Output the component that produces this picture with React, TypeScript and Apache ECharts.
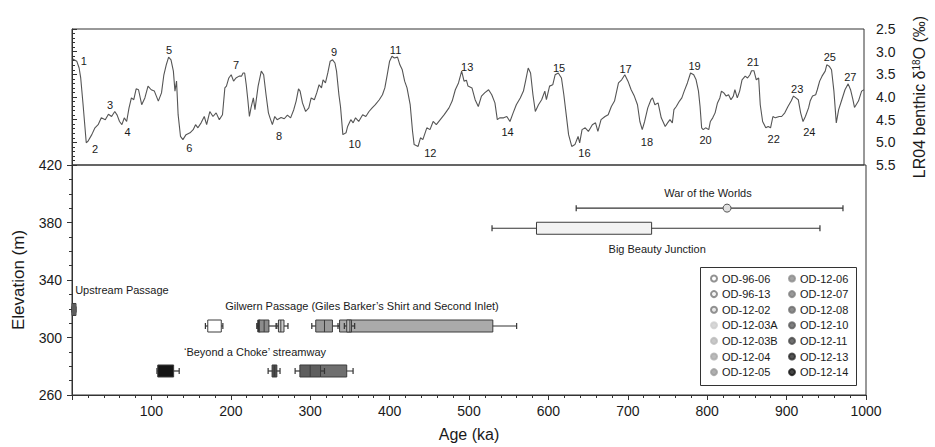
import React, { useEffect, useRef } from 'react';
import * as echarts from 'echarts';

// LR04 benthic stack: [age (ka), δ18O (‰)]
const lr04Stack: [number, number][] = [
  [1, 3.16], [6, 3.21], [9, 3.36], [11, 3.58], [14, 4.17], [18, 5.01], [20, 4.98], [25, 4.83], [29, 4.68], [33, 4.61],
  [37, 4.46], [42, 4.5], [46, 4.38], [50, 4.43], [54, 4.32], [57, 4.4], [60, 4.54], [63, 4.61], [66, 4.46], [69, 4.54],
  [72, 4.24], [75, 4.02], [78, 4.06], [81, 3.82], [84, 3.84], [88, 4.17], [92, 4.02], [96, 3.76], [100, 3.84], [104, 3.87],
  [109, 4.09], [113, 3.91], [116, 3.51], [119, 3.29], [122, 3.12], [125, 3.18], [128, 3.43], [130, 3.87], [132, 3.65], [134, 4.39],
  [137, 4.87], [140, 4.94], [144, 4.83], [149, 4.79], [153, 4.72], [156, 4.61], [159, 4.68], [163, 4.57], [167, 4.43], [170, 4.61],
  [174, 4.32], [178, 4.43], [182, 4.35], [186, 4.5], [190, 4.39], [193, 3.8], [195, 3.76], [198, 3.58], [201, 3.51], [204, 3.65],
  [207, 3.58], [211, 3.54], [214, 3.54], [216, 3.47], [218, 3.47], [220, 3.73], [222, 4.06], [224, 4.43], [226, 4.24], [229, 4.02],
  [231, 4.28], [235, 3.76], [239, 3.43], [242, 3.51], [245, 3.95], [248, 4.35], [250, 4.46], [253, 4.61], [256, 4.43], [259, 4.5],
  [264, 4.45], [268, 4.48], [272, 4.4], [276, 4.46], [280, 4.28], [283, 4.09], [286, 3.82], [288, 3.87], [291, 4.13], [295, 4.32],
  [299, 4.24], [302, 4.02], [306, 4.06], [309, 3.91], [312, 3.73], [315, 3.8], [317, 3.62], [320, 3.69], [323, 3.47], [326, 3.21],
  [329, 3.18], [332, 3.25], [334, 3.43], [337, 3.95], [339, 4.21], [342, 4.83], [346, 4.79], [348, 4.65], [352, 4.5], [355, 4.57],
  [358, 4.46], [362, 4.54], [367, 4.39], [371, 4.43], [375, 4.32], [379, 4.24], [383, 4.17], [388, 4.06], [392, 3.95], [395, 3.8],
  [398, 3.51], [401, 3.21], [404, 3.1], [407, 3.14], [411, 3.12], [414, 3.29], [417, 3.4], [420, 3.65], [423, 3.8], [427, 4.17],
  [430, 4.76], [432, 5.05], [437, 5.09], [440, 4.9], [443, 4.94], [448, 4.68], [452, 4.72], [456, 4.54], [460, 4.61], [465, 4.5],
  [470, 4.39], [476, 4.24], [480, 4.09], [484, 3.84], [488, 3.69], [492, 3.43], [495, 3.65], [498, 3.63], [500, 3.76], [505, 3.8],
  [509, 4.06], [513, 4.21], [517, 3.98], [521, 3.91], [526, 3.84], [530, 3.95], [534, 4.13], [537, 4.5], [540, 4.46], [545, 4.46],
  [549, 4.43], [553, 4.54], [557, 4.35], [561, 4.17], [566, 4.02], [570, 3.87], [573, 3.62], [576, 3.36], [579, 3.47], [582, 3.95],
  [585, 4.32], [589, 4.17], [593, 4.06], [597, 3.87], [599, 4.06], [603, 3.76], [607, 3.73], [610, 3.51], [614, 3.47], [618, 3.58],
  [621, 3.95], [624, 4.39], [627, 4.83], [631, 5.09], [635, 5.05], [639, 4.87], [641, 5.01], [644, 4.72], [648, 4.68], [652, 4.76],
  [657, 4.61], [661, 4.57], [664, 4.76], [668, 4.5], [673, 4.43], [677, 4.39], [681, 4.21], [685, 4.09], [690, 3.69], [694, 3.62],
  [698, 3.51], [702, 3.65], [706, 3.84], [710, 3.98], [714, 4.17], [717, 4.54], [720, 4.72], [723, 4.54], [727, 4.24], [731, 4.06],
  [733, 4.02], [736, 4.17], [740, 4.13], [744, 4.46], [749, 4.65], [752, 4.57], [755, 4.5], [758, 4.57], [760, 4.28], [763, 4.21],
  [767, 4.09], [770, 4.02], [773, 3.87], [777, 3.69], [781, 3.47], [785, 3.51], [788, 3.62], [791, 3.87], [793, 4.21], [795, 4.68],
  [797, 4.72], [800, 4.68], [804, 4.72], [806, 4.54], [809, 4.46], [812, 4.35], [815, 4.13], [818, 4.02], [820, 3.87], [823, 3.91],
  [826, 3.98], [829, 3.95], [832, 4.06], [835, 3.98], [837, 3.84], [840, 4.02], [843, 3.87], [846, 3.62], [850, 3.54], [853, 3.58],
  [856, 3.51], [858, 3.42], [861, 3.42], [864, 3.62], [867, 3.58], [869, 4.17], [872, 4.54], [876, 4.68], [879, 4.65], [882, 4.68],
  [885, 4.43], [888, 4.46], [893, 4.43], [896, 4.43], [900, 4.35], [904, 4.21], [908, 4.09], [911, 3.98], [914, 4.02], [917, 4.06],
  [920, 4.35], [923, 4.54], [926, 4.43], [930, 4.24], [932, 4.09], [935, 3.98], [939, 3.95], [941, 3.84], [944, 3.65], [947, 3.54],
  [951, 3.43], [953, 3.29], [956, 3.32], [959, 3.4], [962, 3.87], [965, 4.57], [968, 4.28], [972, 4.06], [976, 3.84], [980, 3.71],
  [983, 3.84], [986, 4.06], [988, 4.23], [993, 4.09], [997, 3.87], [1000, 3.84],
];

// Marine isotope stage labels: [stage, age (ka), δ18O]
const misLabels: [string, number, number][] = [
  ['1', 15, 3.21], ['2', 29, 5.14], ['3', 48, 4.17], ['4', 70, 4.77], ['5', 122.5, 2.96], ['6', 148, 5.13],
  ['7', 207, 3.3], ['8', 261.6, 4.85], ['9', 331, 3.01], ['10', 357, 5.04], ['11', 408.5, 2.96], ['12', 452.5, 5.24],
  ['13', 499, 3.33], ['14', 550, 4.77], ['15', 615, 3.35], ['16', 647, 5.24], ['17', 699, 3.38], ['18', 726, 4.99],
  ['19', 786, 3.32], ['20', 800, 4.94], ['21', 860, 3.23], ['22', 886, 4.92], ['23', 915.6, 3.82], ['24', 931, 4.77],
  ['25', 956.8, 3.12], ['27', 982.7, 3.56],
];

const sampleNames = [
  'OD-96-06', 'OD-96-13', 'OD-12-02', 'OD-12-03A', 'OD-12-03B', 'OD-12-04', 'OD-12-05',
  'OD-12-06', 'OD-12-07', 'OD-12-08', 'OD-12-10', 'OD-12-11', 'OD-12-13', 'OD-12-14',
];
const sampleColors = [
  '#ffffff', '#f2f2f2', '#e0e0e0', '#cdcdcd', '#bababa', '#aaaaaa', '#9b9b9b',
  '#8c8c8c', '#7f7f7f', '#6f6f6f', '#5e5e5e', '#4b4b4b', '#2b2b2b', '#151515',
];

// Age ranges: [sample index, min, q1, median, q3, max, elevation (m)]
const ageBoxes: number[][] = [
  [8, 0, 0, 2.5, 5, 5, 319.5],
  [0, 168, 171, 171, 188, 190, 308],
  [12, 233, 234, 235.5, 237, 238, 308],
  [7, 233, 236, 242, 248, 257, 308],
  [3, 258, 260, 263, 267, 272, 308],
  [6, 302, 307, 318, 328, 337, 308],
  [5, 335, 337, 349, 530, 560, 308],
  [4, 343, 346, 350, 352, 356, 308],
  [13, 107, 108, 108, 128, 135, 276.7],
  [11, 247, 252, 255, 258, 262, 276.7],
  [9, 310, 313, 313, 346, 354, 276.7],
  [10, 281, 287, 300, 313, 318, 276.7],
  [1, 529, 585, 585, 730, 942, 376],
  [2, 635, 825, 825, 825, 971, 390],
];

const siteNames = [
  'Upstream Passage',
  'Gilwern Passage (Giles Barker\u2019s Shirt and Second Inlet)',
  '\u2018Beyond a Choke\u2019 streamway',
  'War of the Worlds',
  'Big Beauty Junction',
];
const siteAge = [4, 193, 141, 801, 737];
const siteElev = [333, 321.6, 289.7, 400.7, 361.4];
const siteAlign = ['left', 'left', 'left', 'center', 'center'];

const xTicks = { min: 0, max: 1000, interval: 100 };
const elevTicks = { min: 260, max: 420, interval: 40 };
const d18OTicks = { min: 2.5, max: 5.5, interval: 0.5 };

const FONT = 'Liberation Sans, Arial, Helvetica, sans-serif';
const AXIS_COLOR = '#333';
const TEXT_COLOR = '#1a1a1a';

function textSeries(xAxisIndex: number, yAxisIndex: number, rows: number[][], texts: string[], aligns: string[], size: number) {
  return {
    type: 'custom',
    xAxisIndex,
    yAxisIndex,
    silent: true,
    clip: false,
    encode: { x: 0, y: 1 },
    data: rows,
    renderItem: (params: any, api: any) => {
      const i = params.dataIndex;
      const p = api.coord([api.value(0), api.value(1)]);
      return {
        type: 'text',
        x: p[0],
        y: p[1],
        style: {
          text: texts[i],
          fill: TEXT_COLOR,
          fontSize: size,
          fontFamily: FONT,
          align: aligns[i],
          verticalAlign: 'middle',
        },
      };
    },
  };
}

function buildOption(): any {
  const boxSeries = {
    type: 'custom',
    xAxisIndex: 1,
    yAxisIndex: 1,
    silent: true,
    clip: false,
    encode: { x: [1, 2, 3, 4, 5], y: 6 },
    data: ageBoxes,
    renderItem: (_params: any, api: any) => {
      const si = api.value(0);
      const mn = api.value(1), q1 = api.value(2), md = api.value(3), q3 = api.value(4), mx = api.value(5), el = api.value(6);
      const pMin = api.coord([mn, el]);
      const pMax = api.coord([mx, el]);
      const pQ1 = api.coord([q1, el]);
      const pQ3 = api.coord([q3, el]);
      const pMd = api.coord([md, el]);
      const y = pMin[1];
      const boxH = 12;
      const capH = 6;
      const lineStyle = { stroke: '#333', lineWidth: 1.2 };
      const children: any[] = [
        { type: 'line', shape: { x1: pMin[0], y1: y, x2: pMax[0], y2: y }, style: lineStyle },
        { type: 'line', shape: { x1: pMin[0], y1: y - capH / 2, x2: pMin[0], y2: y + capH / 2 }, style: lineStyle },
        { type: 'line', shape: { x1: pMax[0], y1: y - capH / 2, x2: pMax[0], y2: y + capH / 2 }, style: lineStyle },
      ];
      if (q3 > q1) {
        children.push({
          type: 'rect',
          shape: { x: pQ1[0], y: y - boxH / 2, width: pQ3[0] - pQ1[0], height: boxH },
          style: { fill: sampleColors[si], stroke: '#3c3c3c', lineWidth: 1 },
        });
        if (md > q1 && md < q3) {
          children.push({
            type: 'line',
            shape: { x1: pMd[0], y1: y - boxH / 2, x2: pMd[0], y2: y + boxH / 2 },
            style: { stroke: '#3c3c3c', lineWidth: 1 },
          });
        }
      } else {
        children.push({
          type: 'circle',
          shape: { cx: pMd[0], cy: y, r: 4 },
          style: { fill: sampleColors[si], stroke: '#555', lineWidth: 1 },
        });
      }
      return { type: 'group', children };
    },
  };

  const legendSeries = sampleNames.map((name, i) => ({
    type: 'scatter',
    name,
    xAxisIndex: 1,
    yAxisIndex: 1,
    data: [],
    itemStyle: { color: sampleColors[i], borderColor: i < 3 ? '#777' : sampleColors[i], borderWidth: 0.6 },
  }));

  const legendBase = {
    orient: 'vertical',
    top: 273,
    padding: 0,
    itemWidth: 6,
    itemHeight: 6,
    itemGap: 4.6,
    icon: 'circle',
    selectedMode: false,
    textStyle: { fontSize: 11, color: TEXT_COLOR, fontFamily: FONT },
  };

  const misSeries = textSeries(
    0,
    0,
    misLabels.map(([, age, d]) => [age, d]),
    misLabels.map(([s]) => s),
    misLabels.map(() => 'center'),
    11,
  );
  const siteSeries = textSeries(
    1,
    1,
    siteAge.map((a, i) => [a, siteElev[i]]),
    siteNames,
    siteAlign,
    11,
  );

  return {
    animation: false,
    backgroundColor: '#fff',
    textStyle: { fontFamily: FONT },
    grid: [
      { left: 72, top: 29, width: 794, height: 136, show: true, borderColor: AXIS_COLOR, borderWidth: 1 },
      { left: 72, top: 165, width: 794, height: 232, show: true, borderColor: AXIS_COLOR, borderWidth: 1 },
    ],
    xAxis: [
      { type: 'value', gridIndex: 0, ...xTicks, show: false },
      {
        type: 'value',
        gridIndex: 1,
        ...xTicks,
        name: 'Age (ka)',
        nameLocation: 'middle',
        nameGap: 31,
        nameTextStyle: { fontSize: 16, color: TEXT_COLOR, fontFamily: FONT },
        axisLine: { show: true, lineStyle: { color: AXIS_COLOR, width: 1 } },
        axisTick: { show: true, length: 5, lineStyle: { color: AXIS_COLOR } },
        minorTick: { show: true, splitNumber: 5, length: 3, lineStyle: { color: AXIS_COLOR } },
        splitLine: { show: false },
        axisLabel: {
          fontSize: 14,
          color: TEXT_COLOR,
          margin: 9,
          formatter: (v: number) => (v === 0 ? '' : String(v)),
        },
      },
    ],
    yAxis: [
      {
        type: 'value',
        gridIndex: 0,
        position: 'right',
        inverse: true,
        ...d18OTicks,
        name: '{t|LR04 benthic \u03b4}{s|18}{t|O (\u2030)}',
        nameLocation: 'middle',
        nameRotate: 90,
        nameGap: 47,
        nameTextStyle: {
          fontSize: 16,
          color: TEXT_COLOR,
          fontFamily: FONT,
          rich: {
            t: { fontSize: 16, color: TEXT_COLOR, fontFamily: FONT },
            s: { fontSize: 10, color: TEXT_COLOR, fontFamily: FONT, verticalAlign: 'top' },
          },
        },
        axisLine: { show: true, lineStyle: { color: AXIS_COLOR, width: 1 } },
        axisTick: { show: true, length: 5, lineStyle: { color: AXIS_COLOR } },
        minorTick: { show: true, splitNumber: 5, length: 3, lineStyle: { color: AXIS_COLOR } },
        splitLine: { show: false },
        axisLabel: { fontSize: 14, color: TEXT_COLOR, margin: 12, formatter: (v: number) => v.toFixed(1) },
      },
      {
        type: 'value',
        gridIndex: 1,
        position: 'left',
        ...elevTicks,
        name: 'Elevation (m)',
        nameLocation: 'middle',
        nameRotate: 90,
        nameGap: 45,
        nameTextStyle: { fontSize: 17, color: TEXT_COLOR, fontFamily: FONT },
        axisLine: { show: true, lineStyle: { color: AXIS_COLOR, width: 1 } },
        axisTick: { show: true, length: 5, lineStyle: { color: AXIS_COLOR } },
        minorTick: { show: true, splitNumber: 4, length: 3, lineStyle: { color: AXIS_COLOR } },
        splitLine: { show: false },
        axisLabel: { fontSize: 14, color: TEXT_COLOR, margin: 10 },
      },
    ],
    legend: [
      { ...legendBase, left: 710, data: sampleNames.slice(0, 7) },
      { ...legendBase, left: 788, data: sampleNames.slice(7) },
    ],
    graphic: [
      {
        type: 'rect',
        shape: { x: 700.5, y: 267.5, width: 156, height: 118 },
        style: { fill: 'transparent', stroke: '#333', lineWidth: 1 },
        silent: true,
      },
    ],
    series: [
      {
        type: 'line',
        xAxisIndex: 0,
        yAxisIndex: 0,
        data: lr04Stack,
        showSymbol: false,
        symbol: 'none',
        silent: true,
        lineStyle: { color: '#555', width: 1.1 },
      },
      misSeries,
      boxSeries,
      siteSeries,
      ...legendSeries,
    ],
  };
}

export default function App() {
  const ref = useRef<HTMLDivElement>(null);
  useEffect(() => {
    if (!ref.current) return;
    const chart = echarts.init(ref.current, null, { renderer: 'svg' });
    chart.setOption(buildOption());
    return () => chart.dispose();
  }, []);
  return (
    <div
      ref={ref}
      style={{ position: 'fixed', left: 0, top: 0, width: 935, height: 447, background: '#fff' }}
    />
  );
}
